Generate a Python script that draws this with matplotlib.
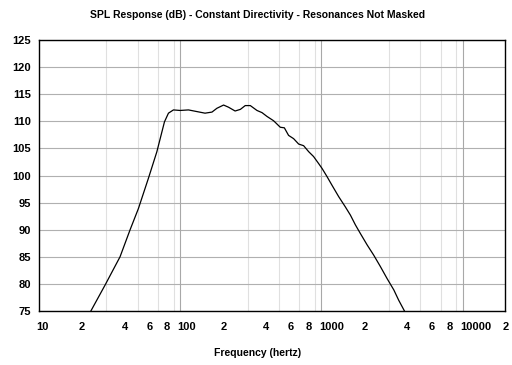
import matplotlib
matplotlib.use('Agg')
import matplotlib.pyplot as plt
import matplotlib.transforms as mtransforms
from matplotlib.ticker import FixedLocator, NullFormatter

plt.rcParams['font.family'] = ['Liberation Sans', 'DejaVu Sans']

# frequency (Hz) and SPL (dB)
freq = [23.3, 29.4, 37.5, 44.2, 50.6, 59.6, 68.4, 77.4, 82.6, 89.6, 100,
        114.5, 131, 150, 168, 182, 203, 220, 245, 267, 289, 314, 350, 380,
        412, 459, 512, 547, 586, 636, 691, 749, 813, 881, 957, 1012, 1097,
        1190, 1327, 1480, 1606, 1742, 1890, 2110, 2350, 2620, 2920, 3260,
        3530, 3880]
spl = [75.0, 79.8, 85.0, 90.0, 93.9, 99.5, 104.4, 109.9, 111.5, 112.1, 112.0,
       112.1, 111.8, 111.5, 111.7, 112.4, 113.0, 112.6, 111.9, 112.2, 112.9,
       112.9, 112.0, 111.6, 110.9, 110.1, 108.9, 108.8, 107.4, 106.8, 105.8,
       105.5, 104.4, 103.5, 102.2, 101.3, 99.8, 98.2, 96.1, 94.2, 92.7, 90.9,
       89.3, 87.2, 85.3, 83.2, 81.0, 78.9, 77.0, 75.0]

xtick_pos = [10, 20, 40, 60, 80, 100, 200, 400, 600, 800, 1000,
             2000, 4000, 6000, 8000, 10000, 20000]
xtick_lbl = ['10', '2', '4', '6', '8', '100', '2', '4', '6', '8', '1000',
             '2', '4', '6', '8', '10000', '2']
ytick_pos = [75, 80, 85, 90, 95, 100, 105, 110, 115, 120, 125]

fig = plt.figure(figsize=(5.12, 3.65), dpi=100)
ax = fig.add_axes([39 / 512, 1 - 311 / 365, 466 / 512, 271 / 365])

ax.set_xscale('log')
ax.set_xlim(10, 20000)
ax.set_ylim(75, 125)

minor = [m * 10 ** d for d in range(1, 5) for m in range(2, 10) if m * 10 ** d < 20000]
ax.xaxis.set_minor_locator(FixedLocator(minor))
ax.xaxis.set_minor_formatter(NullFormatter())
ax.set_xticks(xtick_pos)
ax.set_xticklabels(xtick_lbl)
ax.set_yticks(ytick_pos)
ax.set_yticklabels([str(v) for v in ytick_pos])

ax.grid(True, which='minor', axis='x', color='#e0e0e0', linewidth=0.8)
for d in [100, 1000, 10000]:
    ax.axvline(d, color='#a8a8a8', linewidth=0.8, zorder=1)
ax.grid(True, which='major', axis='y', color='#b0b0b0', linewidth=0.8)
ax.set_axisbelow(True)

ax.plot(freq, spl, color='black', linewidth=0.9, zorder=3, clip_on=True)

ax.tick_params(which='both', length=0)
ax.tick_params(axis='x', pad=8)
ax.tick_params(axis='y', pad=6)
shift = mtransforms.ScaledTranslation(-2.5 / 100, 0, fig.dpi_scale_trans)
for lbl in ax.get_xticklabels():
    lbl.set_fontsize(8)
    lbl.set_fontweight('bold')
    lbl.set_horizontalalignment('left')
    lbl.set_transform(lbl.get_transform() + shift)
for lbl in ax.get_yticklabels():
    lbl.set_fontsize(8)
    lbl.set_fontweight('bold')
for s in ax.spines.values():
    s.set_color('black')
    s.set_linewidth(1)

fig.text(258 / 512, 1 - 15 / 365, 'SPL Response (dB) - Constant Directivity - Resonances Not Masked',
         ha='center', va='center', fontsize=7.5, fontweight='bold')
fig.text(258 / 512, 1 - 353 / 365, 'Frequency (hertz)', ha='center', va='center',
         fontsize=7.5, fontweight='bold')

fig.savefig('out.png', dpi=100)
